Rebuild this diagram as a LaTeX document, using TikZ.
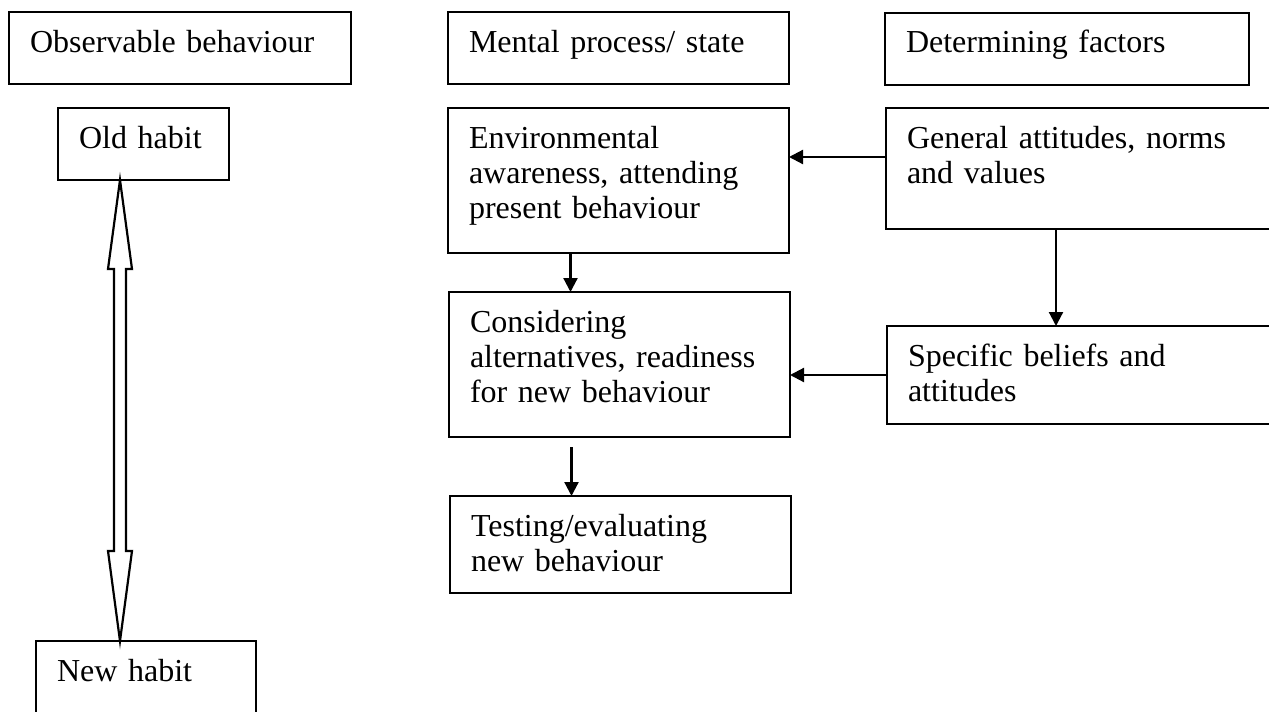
\documentclass[tikz,border=0pt]{standalone}
\usepackage{fontspec}
\setmainfont{Liberation Serif}
\usetikzlibrary{arrows.meta}

\begin{document}
\begin{tikzpicture}[x=0.5pt, y=-0.5pt, line width=1.1pt,
    box/.style={draw=black, anchor=north west, align=left, outer sep=0pt,
        inner xsep=10.5pt, inner ysep=0pt, text height=20pt,
        font=\fontsize{16}{17.5}\selectfont},
    arr/.style={-{Triangle[length=7pt, width=7pt]}},
    hollow/.style={draw=black, fill=white, line join=miter}]
    \useasboundingbox (0,0) rectangle (1269,712);
    \clip (0,0) rectangle (1269,712);
    \fill[white] (0,0) rectangle (1269,712);

    \node[box, text width=150pt, text depth=16pt]   (obs) at (9,12) {Observable behaviour};
    \node[box, text width=149.5pt, text depth=16pt] (mental) at (448,12) {Mental process/ state};
    \node[box, text width=161pt, text depth=16pt]   (determ) at (885,13) {Determining factors};

    \node[box, text width=64.5pt, text depth=16pt]  (old) at (58,108) {Old habit};
    \node[box, text width=89pt, text depth=20pt]    (new) at (36,641) {New habit};

    \node[box, text width=149.5pt, text depth=52.5pt] (env) at (448,108) {Environmental\\awareness, attending\\present behaviour};
    \node[box, text width=149.5pt, text depth=52.5pt] (cons) at (449,292) {Considering\\alternatives, readiness\\for new behaviour};
    \node[box, text width=149.5pt, text depth=28.5pt] (test) at (450,496) {Testing/evaluating\\new behaviour};

    \node[box, text width=179pt, text depth=40.5pt] (gen) at (886,108) {General attitudes, norms\\and values};
    \node[box, text width=179pt, text depth=29pt]   (spec) at (887,326) {Specific beliefs and\\attitudes};

    \draw[arr] ([yshift=5.75pt]gen.west) -- ([yshift=5.75pt]gen.west -| env.east);
    \draw[arr] (spec.west) -- (spec.west -| cons.east);
    \draw[arr] ([xshift=85pt]gen.south west) -- ([xshift=85pt]gen.south west |- spec.north);
    \draw[arr] ([xshift=-24pt]env.south) -- ([xshift=-24pt]env.south |- cons.north);
    \draw[arr] ([xshift=-24pt, yshift=-5pt]cons.south) -- ([xshift=-24pt]cons.south |- test.north);

    \coordinate (top) at ([xshift=-11.75pt]old.south);
    \coordinate (bot) at (top |- new.north);
    \draw[hollow] (top) -- ++(12,89) -- ++(-6,0) -- ([shift={(6,-90)}]bot) -- ++(6,0)
        -- (bot) -- ++(-12,-90) -- ++(6,0) -- ([shift={(-6,89)}]top) -- ++(-6,0) -- cycle;
\end{tikzpicture}
\end{document}
